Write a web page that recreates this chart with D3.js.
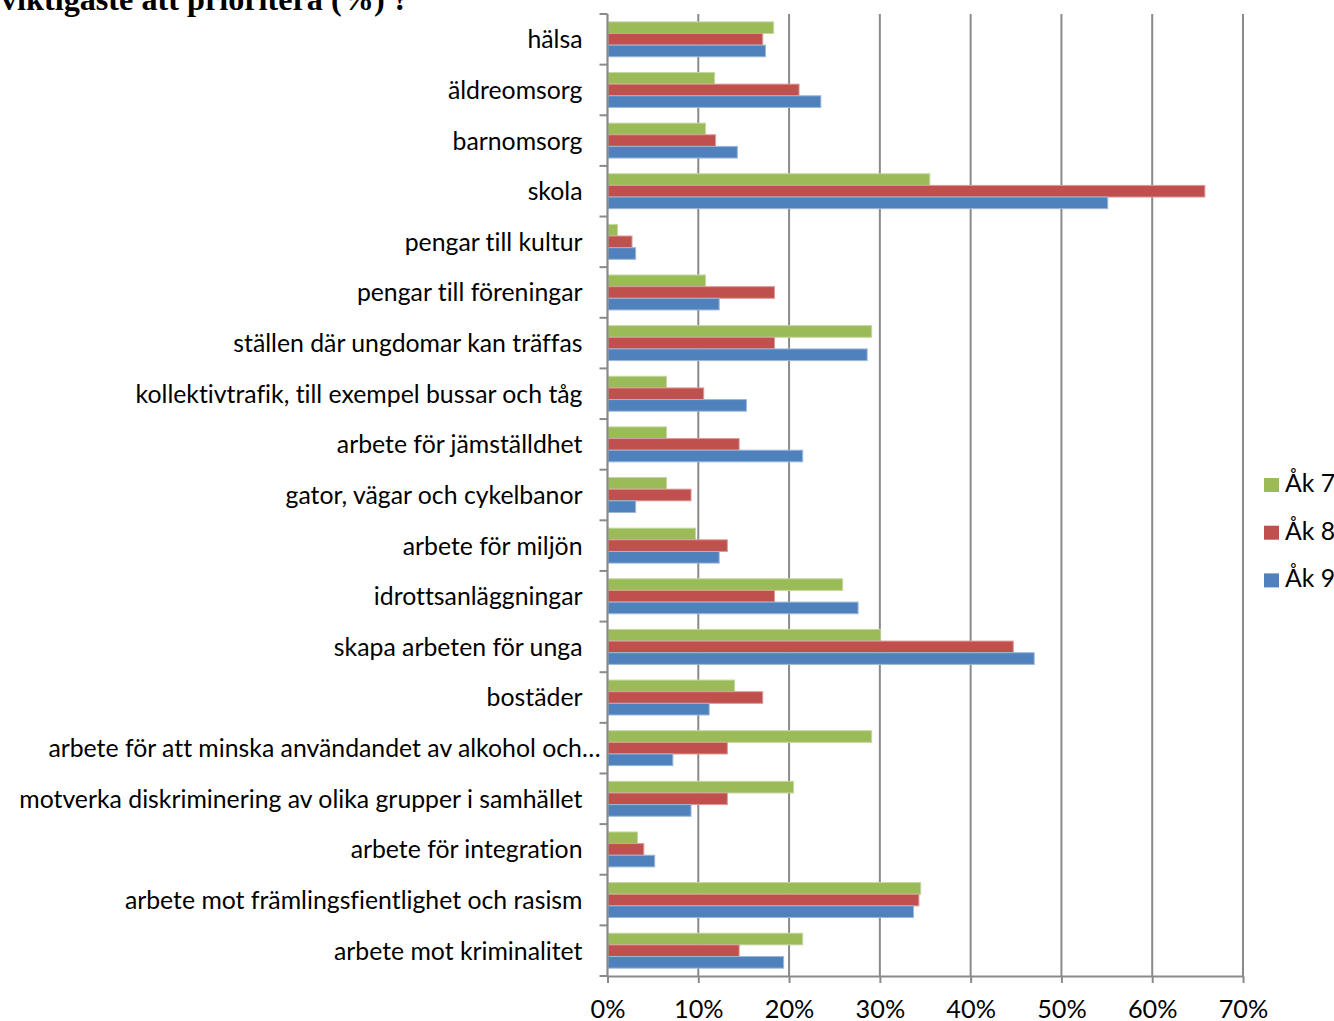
<!DOCTYPE html>
<html><head><meta charset="utf-8">
<script src="https://cdn.jsdelivr.net/npm/d3@7"></script>
<style>body{margin:0;background:#fff} svg{display:block} text{font-variant-ligatures:none;font-feature-settings:"liga" 0,"clig" 0,"dlig" 0}</style>
</head><body>
<svg id="c" width="1334" height="1021"></svg>
<script>
const categories = [
  "hälsa","äldreomsorg","barnomsorg","skola","pengar till kultur",
  "pengar till föreningar","ställen där ungdomar kan träffas",
  "kollektivtrafik, till exempel bussar och tåg","arbete för jämställdhet",
  "gator, vägar och cykelbanor","arbete för miljön","idrottsanläggningar",
  "skapa arbeten för unga","bostäder",
  "arbete för att minska användandet av alkohol och…",
  "motverka diskriminering av olika grupper i samhället",
  "arbete för integration","arbete mot främlingsfientlighet och rasism",
  "arbete mot kriminalitet"
];
const seriesNames = ["Åk 7","Åk 8","Åk 9"];
const ak7 = [18.3,11.8,10.8,35.5,1.1,10.8,29.1,6.5,6.5,6.5,9.7,25.9,30.1,14.0,29.1,20.5,3.3,34.5,21.5];
const ak8 = [17.1,21.1,11.9,65.8,2.7,18.4,18.4,10.6,14.5,9.2,13.2,18.4,44.7,17.1,13.2,13.2,4.0,34.3,14.5];
const ak9 = [17.4,23.5,14.3,55.1,3.1,12.3,28.6,15.3,21.5,3.1,12.3,27.6,47.0,11.2,7.2,9.2,5.2,33.7,19.4];
const xTickValues = [0,10,20,30,40,50,60,70];
const titleText = "viktigaste att prioritera (%) ?";
const seriesColors = ["#9BBB59","#C0504D","#4F81BD"];
const seriesStrokes = ["#c4d7a0","#dc9a98","#9bb7da"];

const seriesValues = [ak7, ak8, ak9];
const rows = categories.map((c,i)=>({cat:c, vals: seriesNames.map((s,j)=>({s, v: seriesValues[j][i], j}))}));

const svg = d3.select("#c");
const LEFT = 607.5, RIGHT = 1243, TOP = 14, BOTTOM = 976;
const x = d3.scaleLinear().domain([0,70]).range([LEFT, RIGHT]);
const y = d3.scaleBand().domain(categories).range([TOP, BOTTOM]).paddingInner(0.31).paddingOuter(0.155);
const yi = d3.scaleBand().domain(seriesNames).range([0, y.bandwidth()]);
const gridColor = "#8a8a8a";

// title (cut off at top)
const title = svg.append("text").attr("x", 1).attr("y", 10)
  .attr("font-family", "'Liberation Serif','Times New Roman',serif").attr("font-weight", "bold")
  .attr("font-size", 100).attr("fill", "#000").text(titleText);
const tw = title.node().getComputedTextLength();
title.attr("font-size", 100 * 408 / tw);

// gridlines
svg.append("g").selectAll("line").data(xTickValues.filter(d=>d>0)).join("line")
  .attr("x1", d=>x(d)).attr("x2", d=>x(d)).attr("y1", TOP).attr("y2", BOTTOM)
  .attr("stroke", gridColor).attr("stroke-width", 2);

// bars
const g = svg.append("g");
rows.forEach(r=>{
  g.selectAll(null).data(r.vals).join("rect")
    .attr("x", x(0)+0.5)
    .attr("y", d=>y(r.cat)+yi(d.s))
    .attr("width", d=>Math.max(0, x(d.v)-x(0)-0.5))
    .attr("height", yi.bandwidth())
    .attr("fill", d=>seriesColors[d.j])
    .attr("stroke", d=>seriesStrokes[d.j]).attr("stroke-width", 1);
});

// y axis line and ticks between categories
svg.append("line").attr("x1", LEFT).attr("x2", LEFT).attr("y1", TOP).attr("y2", BOTTOM)
  .attr("stroke", gridColor).attr("stroke-width", 2.2);
const boundaries = d3.range(categories.length+1).map(i=>TOP + i*y.step());
svg.append("g").selectAll("line").data(boundaries).join("line")
  .attr("x1", LEFT-8).attr("x2", LEFT).attr("y1", d=>d).attr("y2", d=>d)
  .attr("stroke", gridColor).attr("stroke-width", 2);

// x axis
const xAxis = d3.axisBottom(x).tickValues(xTickValues).tickSizeInner(7).tickSizeOuter(0)
  .tickFormat(d=>d+"%");
const ax = svg.append("g").attr("transform", `translate(0,${BOTTOM})`).call(xAxis);
ax.select(".domain").attr("stroke", gridColor).attr("stroke-width", 2);
ax.selectAll(".tick line").attr("stroke", gridColor).attr("stroke-width", 2);
ax.selectAll(".tick text").attr("fill", "#000").attr("font-family", "Lato, 'Open Sans', sans-serif")
  .attr("font-size", 24).attr("y", 0).attr("dy", 0).attr("transform", "translate(0,42)");

// category labels
const LABEL_FONT = "Lato, 'Open Sans', sans-serif";
const labels = svg.append("g").selectAll("text").data(categories).join("text")
  .attr("font-family", LABEL_FONT).attr("fill", "#000").attr("text-anchor", "end")
  .attr("font-size", 100)
  .attr("x", d=> d.endsWith("…") ? LEFT-7 : LEFT-25)
  .attr("y", d=>y(d)+y.bandwidth()/2)
  .attr("dy", "0.36em")
  .text(d=>d);
const ref = labels.filter(d=>d.startsWith("kollektivtrafik")).node().getComputedTextLength();
const fs = 100 * 447 / ref;
labels.attr("font-size", fs);
ax.selectAll(".tick text").attr("font-size", fs*1.02);

// legend
const legend = svg.append("g").selectAll("g").data(seriesNames).join("g")
  .attr("transform", (d,i)=>`translate(1264,${478 + i*47.7})`);
legend.append("rect").attr("width", 15).attr("height", 14).attr("fill", (d,i)=>seriesColors[i]);
legend.append("text").attr("x", 21).attr("y", 14).attr("font-family", LABEL_FONT)
  .attr("font-size", fs).attr("fill", "#000").text(d=>d);
</script>
</body></html>
